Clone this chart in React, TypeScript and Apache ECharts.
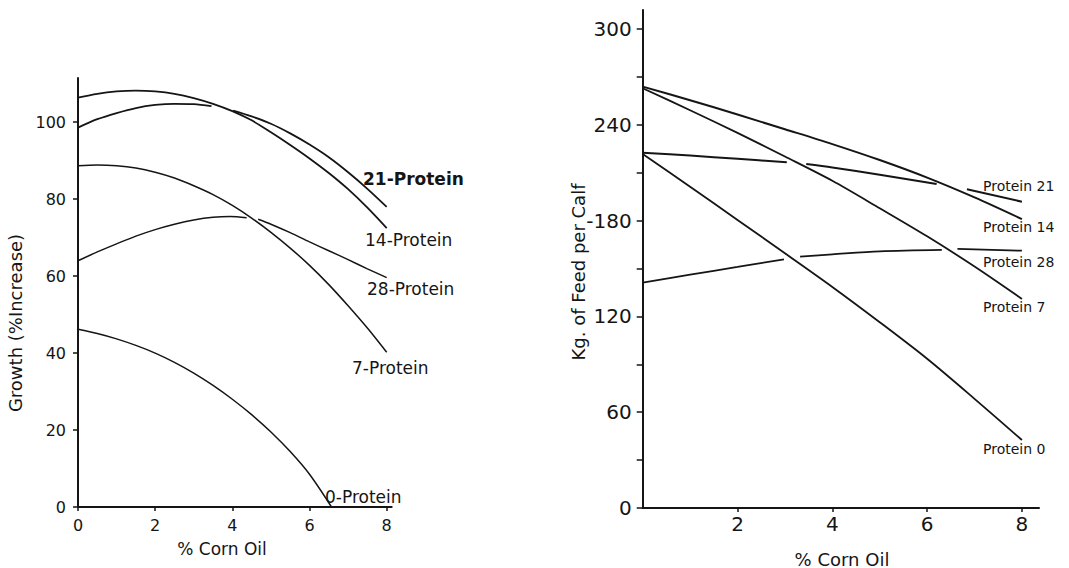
import React, { useEffect, useRef } from 'react';
import * as echarts from 'echarts';

// ---------- Left chart: Growth (% increase) vs % corn oil ----------
const growthTicksY = [0, 20, 40, 60, 80, 100];
const oilTicksLeft = [0, 2, 4, 6, 8];

const g0Oil = [0, 0.5, 1, 1.5, 2, 2.5, 3, 3.5, 4, 4.5, 5, 5.5, 6, 6.57];
const g0Val = [46.2, 45.1, 43.7, 42.0, 40.0, 37.6, 34.8, 31.6, 28.0, 24.0, 19.5, 14.4, 8.5, 0];

const g7Oil = [0, 0.5, 1, 1.5, 2, 2.5, 3, 3.5, 4, 4.5, 5, 5.5, 6, 6.5, 7, 7.5, 8];
const g7Val = [88.7, 88.9, 88.7, 88.1, 87.0, 85.5, 83.5, 81.2, 78.4, 75.1, 71.4, 67.3, 62.8, 57.8, 52.3, 46.5, 40.2];

const g14Oil = [0, 0.5, 1, 1.5, 2, 2.5, 3, 3.5, 4, 4.5, 5, 5.5, 6, 6.5, 7, 7.5, 8];
const g14Val = [106.4, 107.4, 108.0, 108.2, 108.0, 107.4, 106.3, 104.8, 102.9, 100.5, 97.4, 94.1, 90.6, 86.8, 82.6, 77.8, 72.5];

const g21Oil = [0, 0.5, 1, 1.5, 2, 2.5, 3, 3.46, 3.74, 4.02, 4.5, 5, 5.5, 6, 6.5, 7, 7.5, 8];
const g21Val = [98.6, 100.8, 102.4, 103.7, 104.5, 104.8, 104.7, 104.2, null, 103.0, 101.5, 99.6, 97.1, 94.2, 90.9, 87.0, 82.7, 78.0];

const g28Oil = [0, 0.5, 1, 1.5, 2, 2.5, 3, 3.5, 3.94, 4.37, 4.52, 4.67, 5, 5.5, 6, 6.5, 7, 7.5, 8];
const g28Val = [64.0, 66.3, 68.4, 70.4, 72.1, 73.5, 74.6, 75.3, 75.5, 75.2, null, 74.8, 73.5, 71.3, 68.9, 66.6, 64.3, 61.9, 59.6];

const growthLabels = ['21-Protein', '14-Protein', '28-Protein', '7-Protein', '0-Protein'];

// ---------- Right chart: Kg of feed per calf vs % corn oil ----------
const feedTicksY = [0, 30, 60, 90, 120, 150, 180, 210, 240, 270, 300];
const feedTickLabels = ['0', '', '60', '', '120', '', '-180', '', '240', '', '300'];
const oilTicksRight = [2, 4, 6, 8];

const f0Oil = [0, 1, 2, 3, 4, 5, 6, 7, 8];
const f0Val = [221.8, 201.3, 180.5, 159.6, 138.5, 116.4, 93.5, 68.4, 42.6];

const f7Oil = [0, 1, 2, 3, 4, 5, 6, 7, 8];
const f7Val = [263, 249.2, 235, 220.2, 205, 187.8, 170.2, 151.3, 131];

const f14Oil = [0, 1, 2, 3, 4, 5, 6, 7, 8];
const f14Val = [264, 255.5, 246.5, 237.3, 228, 218, 207, 194.6, 181];

const f21Oil = [0, 1, 2, 3.04, 3.25, 3.45, 4, 5, 6.2, 6.5, 6.84, 8];
const f21Val = [222.6, 220.8, 218.8, 216.6, null, 215.5, 213.3, 208.8, 203.0, null, 199.7, 191.9];

const f28Oil = [0, 1, 2, 2.98, 3.15, 3.32, 4, 5, 6.31, 6.48, 6.64, 8];
const f28Val = [141.2, 146.2, 151, 155.8, null, 157.5, 158.9, 160.8, 161.7, null, 162.3, 161.2];

const feedLabels = ['Protein 21', 'Protein 14', 'Protein 28', 'Protein 7', 'Protein 0'];

const FONT = '"DejaVu Sans", "Liberation Sans", sans-serif';
const INK = '#151515';

function pairs(xs: number[], ys: (number | null)[]) {
  return xs.map((x, i) => [x, ys[i] == null ? '-' : ys[i]]);
}

function lineSeries(name: string, xs: number[], ys: (number | null)[], idx: number, width: number) {
  return {
    name,
    type: 'line',
    xAxisIndex: idx,
    yAxisIndex: idx,
    data: pairs(xs, ys),
    smooth: 0.3,
    showSymbol: false,
    symbol: 'none',
    connectNulls: false,
    lineStyle: { color: INK, width },
    silent: true,
  };
}

function txt(text: string, x: number, y: number, size: number, opts: any = {}) {
  return {
    type: 'text',
    x,
    y,
    rotation: opts.rotation || 0,
    style: {
      text,
      fill: INK,
      font: `${opts.weight || 'normal'} ${size}px ${FONT}`,
      align: opts.align || 'left',
      verticalAlign: 'middle',
    },
    silent: true,
  };
}

export default function App() {
  const ref = useRef<HTMLDivElement>(null);

  useEffect(() => {
    if (!ref.current) return;
    const chart = echarts.init(ref.current, undefined, { renderer: 'svg' });

    const axisLine = { show: true, onZero: false, lineStyle: { color: INK, width: 2 } };

    const option: any = {
      animation: false,
      backgroundColor: '#ffffff',
      grid: [
        { left: 78, top: 78, width: 313.7, height: 429, outerBoundsMode: 'none' },
        { left: 642.7, top: 10, width: 396.3, height: 498, outerBoundsMode: 'none' },
      ],
      xAxis: [
        {
          type: 'value', gridIndex: 0, min: 0, max: 8.13, interval: 2,
          axisLine,
          axisTick: { show: true, length: 4, customValues: oilTicksLeft, lineStyle: { color: INK, width: 1.5 } },
          axisLabel: { customValues: oilTicksLeft, margin: 10, fontSize: 16, color: INK, fontFamily: FONT },
          splitLine: { show: false },
        },
        {
          type: 'value', gridIndex: 1, min: 0, max: 8.36, interval: 2,
          axisLine,
          axisTick: { show: true, length: 4, customValues: oilTicksRight, lineStyle: { color: INK, width: 1.5 } },
          axisLabel: { customValues: oilTicksRight, margin: 6, fontSize: 20, color: INK, fontFamily: FONT },
          splitLine: { show: false },
        },
      ],
      yAxis: [
        {
          type: 'value', gridIndex: 0, min: 0, max: 111.5, interval: 20,
          axisLine,
          axisTick: { show: true, length: 5, customValues: growthTicksY, lineStyle: { color: INK, width: 1.5 } },
          axisLabel: { customValues: growthTicksY, margin: 12, fontSize: 16, color: INK, fontFamily: FONT },
          splitLine: { show: false },
        },
        {
          type: 'value', gridIndex: 1, min: 0, max: 312, interval: 30,
          axisLine,
          axisTick: { show: true, length: 6, customValues: feedTicksY, lineStyle: { color: INK, width: 1.5 } },
          axisLabel: {
            customValues: feedTicksY,
            margin: 11,
            fontSize: 20,
            color: INK,
            fontFamily: FONT,
            formatter: (v: number) => {
              const i = feedTicksY.indexOf(v);
              return i >= 0 ? feedTickLabels[i] : '';
            },
          },
          splitLine: { show: false },
        },
      ],
      series: [
        lineSeries('0-Protein', g0Oil, g0Val, 0, 1.5),
        lineSeries('7-Protein', g7Oil, g7Val, 0, 1.5),
        lineSeries('14-Protein', g14Oil, g14Val, 0, 1.8),
        lineSeries('21-Protein', g21Oil, g21Val, 0, 1.8),
        lineSeries('28-Protein', g28Oil, g28Val, 0, 1.5),
        lineSeries('Protein 0', f0Oil, f0Val, 1, 1.8),
        lineSeries('Protein 7', f7Oil, f7Val, 1, 1.8),
        lineSeries('Protein 14', f14Oil, f14Val, 1, 2),
        lineSeries('Protein 21', f21Oil, f21Val, 1, 2),
        lineSeries('Protein 28', f28Oil, f28Val, 1, 1.8),
      ],
      graphic: [
        // axis titles
        txt('% Corn Oil', 222, 549, 17, { align: 'center' }),
        txt('Growth (%Increase)', 15.5, 323, 18, { align: 'center', rotation: Math.PI / 2 }),
        txt('% Corn Oil', 842, 559, 18, { align: 'center' }),
        txt('Kg. of Feed per Calf', 578, 272, 18, { align: 'center', rotation: Math.PI / 2 }),
        // left curve labels
        txt(growthLabels[0], 363, 179, 17, { weight: 'bold' }),
        txt(growthLabels[1], 365, 240, 17),
        txt(growthLabels[2], 367, 289, 17),
        txt(growthLabels[3], 352, 368, 17),
        txt(growthLabels[4], 325, 497, 17),
        // right curve labels
        txt(feedLabels[0], 983, 186, 14),
        txt(feedLabels[1], 983, 227, 14),
        txt(feedLabels[2], 983, 262, 14),
        txt(feedLabels[3], 983, 307, 14),
        txt(feedLabels[4], 983, 449, 14),
      ],
    };

    chart.setOption(option);
    return () => chart.dispose();
  }, []);

  return (
    <div
      ref={ref}
      style={{ position: 'fixed', left: 0, top: 0, width: 1069, height: 568, background: '#fff' }}
    />
  );
}
